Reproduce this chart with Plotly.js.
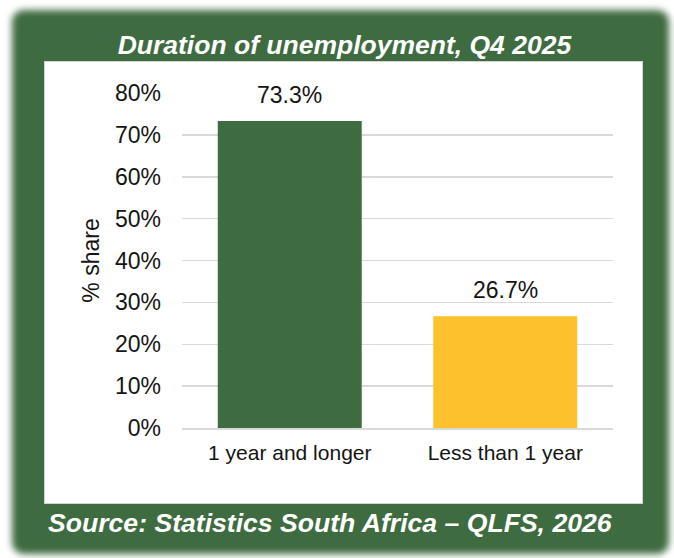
<!DOCTYPE html>
<html>
<head>
<meta charset="utf-8">
<script src="https://cdn.plot.ly/plotly-3.0.1.min.js"></script>
<style>
  html, body { margin: 0; padding: 0; background: #ffffff; }
  #wrap { position: relative; width: 674px; height: 558px; overflow: hidden; background: #ffffff; }
  /* soft-edged green card behind the chart */
  #card {
    position: absolute; left: 12px; top: 10px; width: 657px; height: 544px;
    background: #3f6b41; border-radius: 12px; filter: blur(3.5px);
  }
  /* white panel holding the plot */
  #panel {
    position: absolute; left: 44px; top: 61px; width: 597px; height: 441px;
    background: #ffffff; border: 1.5px solid #d4d4d4;
  }
  #chart { position: absolute; left: 0; top: 0; width: 674px; height: 558px; }
</style>
</head>
<body>
<div id="wrap">
  <div id="card"></div>
  <div id="panel"></div>
  <div id="chart"></div>
</div>
<script>
// Duration of unemployment, Q4 2025 (share of unemployed)
const categories = ['1 year and longer', 'Less than 1 year'];
const shares = [0.733, 0.267];
const barColors = ['#3f6b41', '#fec12e'];
const yTickValues = [0, 0.1, 0.2, 0.3, 0.4, 0.5, 0.6, 0.7, 0.8];

const FONT = 'Liberation Sans, Arial, Helvetica, sans-serif';
const TEXT = '#141414';

const trace = {
  type: 'bar',
  x: categories,
  y: shares,
  marker: { color: barColors },
  hoverinfo: 'skip'
};

const valueLabels = categories.map((c, i) => ({
  x: c, y: shares[i], xref: 'x', yref: 'y',
  text: (shares[i] * 100).toFixed(1) + '%',
  showarrow: false, yanchor: 'bottom', yshift: 11,
  font: { family: FONT, size: 23, color: TEXT }
}));

const layout = {
  width: 674, height: 558,
  paper_bgcolor: 'rgba(0,0,0,0)',
  plot_bgcolor: 'rgba(0,0,0,0)',
  margin: { l: 182, r: 61, t: 93, b: 130 },
  bargap: 0.332,
  showlegend: false,
  title: {
    text: 'Duration of unemployment, Q4 2025',
    font: { family: FONT, size: 26.5, color: '#ffffff', weight: 'bold', style: 'italic' },
    x: 0.511, xanchor: 'center', xref: 'container',
    y: 0.919, yanchor: 'middle', yref: 'container'
  },
  xaxis: {
    type: 'category',
    showline: true, linecolor: '#d9d9d9', linewidth: 2,
    showgrid: false, ticks: '',
    ticklabelstandoff: 5,
    tickfont: { family: FONT, size: 21, color: TEXT },
    fixedrange: true
  },
  yaxis: {
    range: [0, 0.8],
    tickvals: yTickValues,
    tickformat: '.0%',
    showgrid: true, gridcolor: '#d9d9d9', gridwidth: 1.5,
    zeroline: false, showline: false, ticks: '',
    ticklabelstandoff: 20,
    tickfont: { family: FONT, size: 23, color: TEXT },
    title: { text: '% share', standoff: 8, font: { family: FONT, size: 23, color: TEXT } },
    fixedrange: true
  },
  annotations: valueLabels.concat([{
    text: 'Source: Statistics South Africa \u2013 QLFS, 2026',
    xref: 'paper', yref: 'paper', x: -0.3155, y: -0.2836,
    xanchor: 'left', yanchor: 'middle', showarrow: false,
    font: { family: FONT, size: 26.6, color: '#ffffff', weight: 'bold', style: 'italic' }
  }])
};

Plotly.newPlot('chart', [trace], layout, { displayModeBar: false, staticPlot: true });
</script>
</body>
</html>
